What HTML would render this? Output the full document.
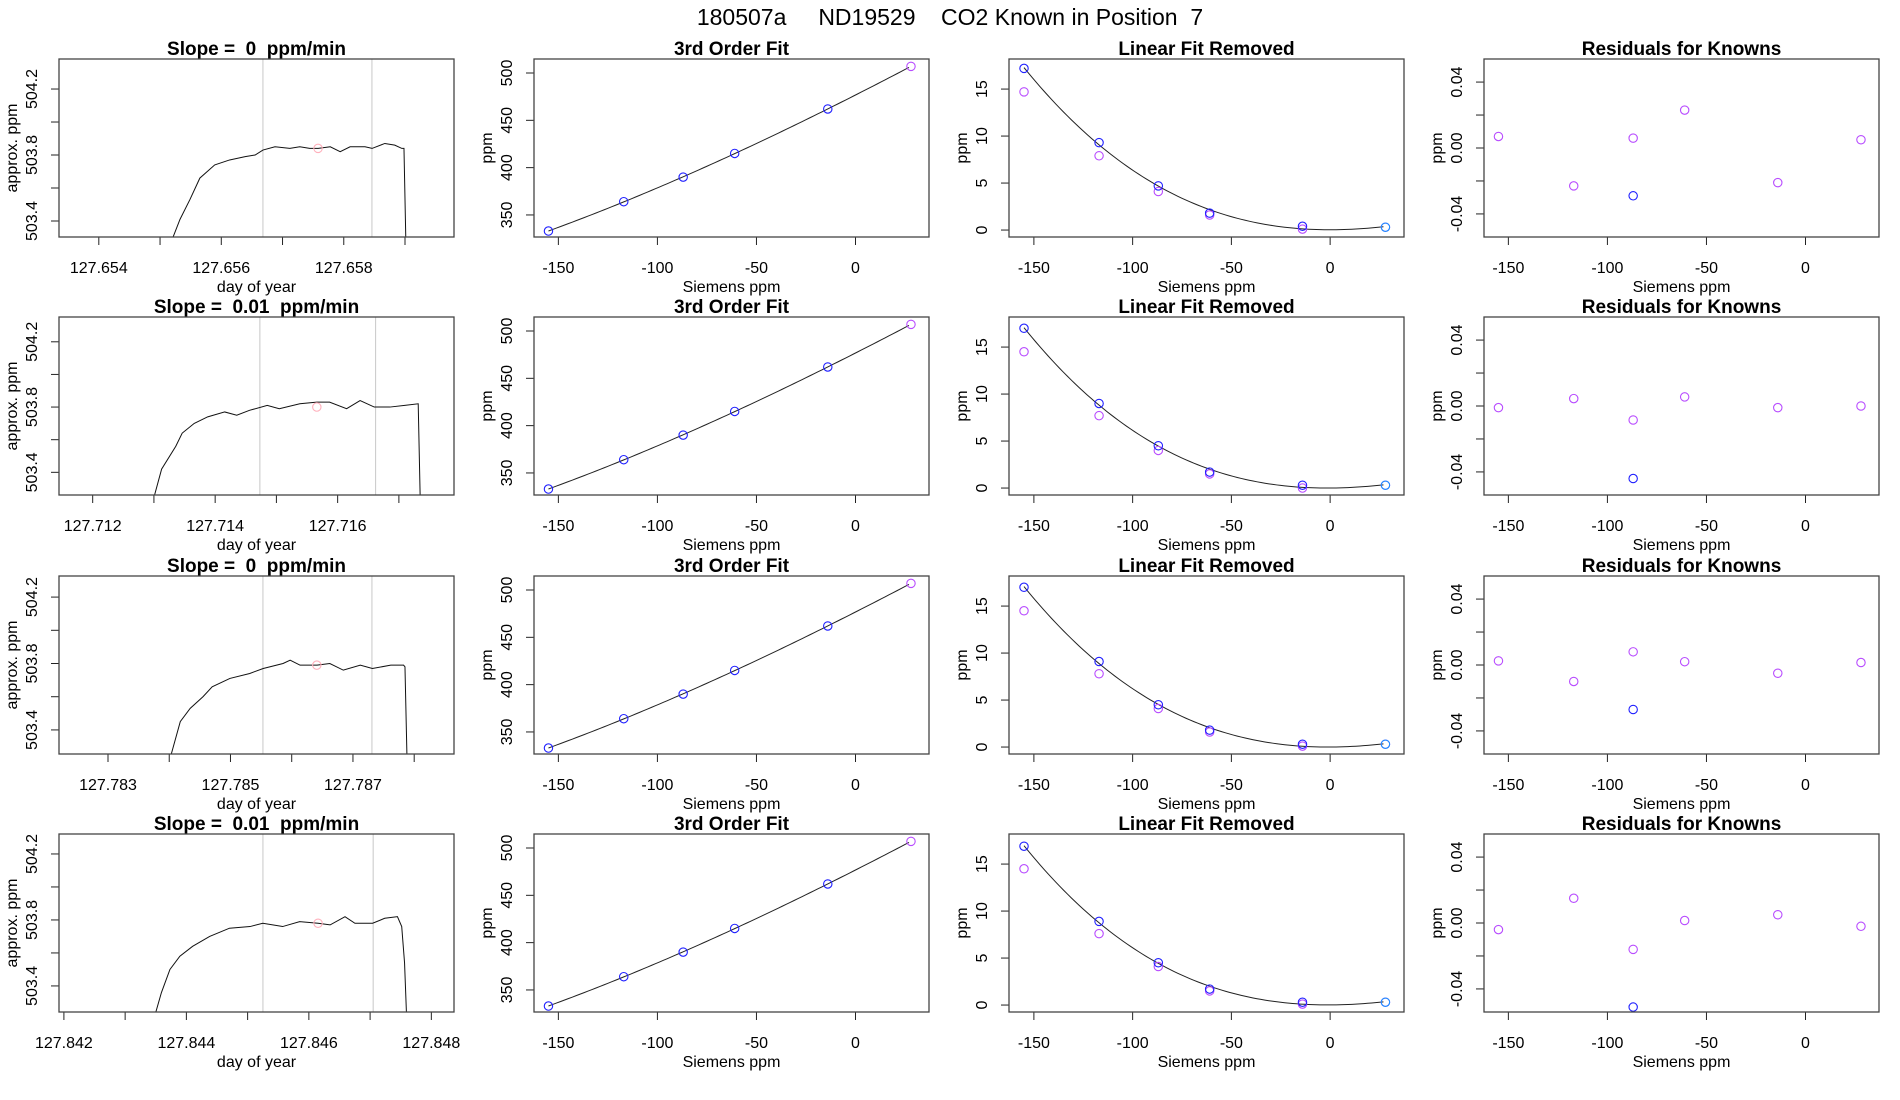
<!DOCTYPE html>
<html><head><meta charset="utf-8"><style>
html,body{margin:0;padding:0;background:#fff;}
svg{display:block;font-family:"Liberation Sans",Arial,sans-serif;}
text{white-space:pre;}
</style></head><body>
<svg id="chart" width="1900" height="1100" viewBox="0 0 1900 1100" xmlns="http://www.w3.org/2000/svg">
<text x="950" y="25" text-anchor="middle" font-size="23" xml:space="preserve">180507a     ND19529    CO2 Known in Position  7</text>
</svg>
<script>
// ---- Trace panels (column 1) ----
const slopeLabels = ["0", "0.01", "0", "0.01"];
const traceStart = [127.65521, 127.71301, 127.78403, 127.84350];
const traceSecs1 = [0,10,24,38,59,80,102,116,127,144,165,179,193,205,222,236,250,271,281,299,313,323,326,329];
const tracePpm1 = [503.30,503.41,503.53,503.66,503.74,503.77,503.79,503.80,503.83,503.85,503.84,503.85,503.84,503.84,503.85,503.82,503.85,503.85,503.84,503.87,503.86,503.84,503.84,503.20];
const traceSecs2 = [0,10,30,39,56,75,99,116,134,159,176,205,229,247,271,290,310,332,353,372,375];
const tracePpm2 = [503.26,503.42,503.56,503.64,503.70,503.74,503.77,503.75,503.78,503.81,503.79,503.82,503.83,503.83,503.79,503.84,503.80,503.80,503.81,503.82,503.20];
const traceSecs3 = [0,13,27,45,58,83,111,130,158,168,182,206,224,243,267,284,310,328,330,333];
const tracePpm3 = [503.25,503.45,503.53,503.60,503.66,503.71,503.74,503.77,503.80,503.82,503.79,503.79,503.80,503.76,503.79,503.77,503.79,503.79,503.78,503.20];
const traceSecs4 = [0,8,20,34,52,76,104,133,151,179,203,229,246,267,281,306,323,341,347,351,354];
const tracePpm4 = [503.24,503.36,503.50,503.58,503.64,503.70,503.75,503.76,503.78,503.76,503.79,503.78,503.77,503.82,503.78,503.78,503.81,503.82,503.76,503.54,503.20];
const dayMin = [127.65335, 127.71145, 127.78220, 127.84192];
const dayMax = [127.65980, 127.71790, 127.78865, 127.84837];
const ppmMin = [503.303, 503.261, 503.255, 503.242];
const ppmMax = [504.382, 504.352, 504.327, 504.321];
const dayTicks1 = [127.654,127.655,127.656,127.657,127.658,127.659];
const dayTicks2 = [127.712,127.713,127.714,127.715,127.716,127.717];
const dayTicks3 = [127.783,127.784,127.785,127.786,127.787,127.788];
const dayTicks4 = [127.842,127.843,127.844,127.845,127.846,127.847,127.848];
const ppmTicks = [503.4,503.6,503.8,504.0,504.2];
const ppmTickLabels = ["503.4","","503.8","","504.2"];
const windowStart = [127.65668, 127.71473, 127.78553, 127.84525];
const windowEnd = [127.65846, 127.71662, 127.78731, 127.84705];
const meanDay = [127.65758, 127.71566, 127.78641, 127.84615];
const meanPpm = [503.84, 503.80, 503.79, 503.78];

// ---- Known standards (columns 2-4) ----
const knownX = [-155, -117, -87, -61, -14, 28];
const fitY = [333, 364, 390, 415, 462, 507];
const linBlue1 = [17.2, 9.3, 4.7, 1.8, 0.4, 0.3];
const linBlue2 = [17.0, 9.0, 4.5, 1.7, 0.3, 0.3];
const linBlue3 = [17.0, 9.1, 4.5, 1.8, 0.3, 0.3];
const linBlue4 = [16.9, 8.9, 4.5, 1.7, 0.3, 0.3];
const linPurple1 = [14.7, 7.9, 4.1, 1.6, 0.1, 0.3];
const linPurple2 = [14.5, 7.7, 4.0, 1.5, 0.0, 0.3];
const linPurple3 = [14.5, 7.8, 4.1, 1.6, 0.1, 0.3];
const linPurple4 = [14.5, 7.6, 4.1, 1.5, 0.1, 0.3];
const resPurple1 = [0.007, -0.023, 0.006, 0.023, -0.021, 0.005];
const resPurple2 = [-0.001, 0.0045, -0.0085, 0.0055, -0.001, 0.000];
const resPurple3 = [0.0025, -0.010, 0.008, 0.002, -0.005, 0.0015];
const resPurple4 = [-0.004, 0.015, -0.016, 0.0015, 0.005, -0.002];
const resBlueX = [-87];
const resBlue = [-0.029, -0.044, -0.027, -0.051];
const siemensTicks = [-150, -100, -50, 0];
const fitTicks = [350, 400, 450, 500];
const linTicks = [0, 5, 10, 15];
const resTicks = [-0.04, -0.02, 0, 0.02, 0.04];
const resTickLabels = ["-0.04", "", "0.00", "", "0.04"];

const traceSecs = [traceSecs1, traceSecs2, traceSecs3, traceSecs4];
const tracePpm = [tracePpm1, tracePpm2, tracePpm3, tracePpm4];
const dayTicks = [dayTicks1, dayTicks2, dayTicks3, dayTicks4];
const linBlue = [linBlue1, linBlue2, linBlue3, linBlue4];
const linPurple = [linPurple1, linPurple2, linPurple3, linPurple4];
const resPurple = [resPurple1, resPurple2, resPurple3, resPurple4];

const NS = "http://www.w3.org/2000/svg";
const svg = document.getElementById("chart");
const ROW_TOP = [59, 317, 576, 834];
const COL_LEFT = [59, 534, 1009, 1484];
const PW = 395, PH = 178;
const BLUE = "#2020ff", PURPLE = "#b84cff", SKY = "#1e90ff";

function mk(tag, attrs, parent, name, inter) {
  const el = document.createElementNS(NS, tag);
  for (const k in attrs) el.setAttribute(k, attrs[k]);
  
  
  parent.appendChild(el);
  return el;
}
function txt(s, attrs, parent, name) {
  const t = mk("text", attrs, parent, name, false);
  t.textContent = s;
  return t;
}
function scale(d0, d1, r0, r1) { return v => r0 + (v - d0) / (d1 - d0) * (r1 - r0); }

function cubicFit(xs, ys) {
  const n = 4, A = [], b = [];
  for (let i = 0; i < n; i++) { A.push([0,0,0,0]); b.push(0); }
  xs.forEach((x, k) => {
    for (let i = 0; i < n; i++) {
      b[i] += ys[k] * Math.pow(x, i);
      for (let j = 0; j < n; j++) A[i][j] += Math.pow(x, i + j);
    }
  });
  for (let i = 0; i < n; i++) {
    let p = i;
    for (let r = i + 1; r < n; r++) if (Math.abs(A[r][i]) > Math.abs(A[p][i])) p = r;
    [A[i], A[p]] = [A[p], A[i]]; [b[i], b[p]] = [b[p], b[i]];
    for (let r = i + 1; r < n; r++) {
      const f = A[r][i] / A[i][i];
      for (let c = i; c < n; c++) A[r][c] -= f * A[i][c];
      b[r] -= f * b[i];
    }
  }
  const c = [0,0,0,0];
  for (let i = n - 1; i >= 0; i--) {
    let s = b[i];
    for (let j = i + 1; j < n; j++) s -= A[i][j] * c[j];
    c[i] = s / A[i][i];
  }
  return x => c[0] + c[1]*x + c[2]*x*x + c[3]*x*x*x;
}

function panel(row, col, title, xd, yd, xticks, xlabels, yticks, ylabels, xlab, ylab, key) {
  const L = COL_LEFT[col], T = ROW_TOP[row], B = T + PH, R = L + PW;
  const g = mk("g", {}, svg, key + "-panel-" + (row + 1), false);
  const sx = scale(xd[0], xd[1], L, R), sy = scale(yd[0], yd[1], B, T);
  txt(title, {x: L + PW/2, y: T - 4, "text-anchor": "middle", "font-size": 19, "font-weight": "bold"}, g, "panel-title");
  const ax = mk("g", {stroke: "#222", "stroke-width": 1}, g, "x-axis", false);
  mk("line", {x1: sx(xticks[0]), x2: sx(xticks[xticks.length-1]), y1: B, y2: B}, ax, "x-axis-line", false);
  xticks.forEach((v, i) => {
    mk("line", {x1: sx(v), x2: sx(v), y1: B, y2: B + 8}, ax, "x-tick", false);
    if (xlabels[i]) txt(xlabels[i], {x: sx(v), y: B + 36, "text-anchor": "middle", "font-size": 16, stroke: "none", fill: "#000"}, g, "x-tick-label");
  });
  txt(xlab, {x: L + PW/2, y: B + 55, "text-anchor": "middle", "font-size": 16}, g, "x-axis-title");
  const ay = mk("g", {stroke: "#222", "stroke-width": 1}, g, "y-axis", false);
  mk("line", {x1: L, x2: L, y1: sy(yticks[0]), y2: sy(yticks[yticks.length-1])}, ay, "y-axis-line", false);
  yticks.forEach((v, i) => {
    mk("line", {x1: L, x2: L - 8, y1: sy(v), y2: sy(v)}, ay, "y-tick", false);
    if (ylabels[i]) txt(ylabels[i], {x: 0, y: 0, transform: `translate(${L - 22},${sy(v)}) rotate(-90)`, "text-anchor": "middle", "font-size": 16}, g, "y-tick-label");
  });
  txt(ylab, {x: 0, y: 0, transform: `translate(${L - 42},${T + PH/2}) rotate(-90)`, "text-anchor": "middle", "font-size": 16}, g, "y-axis-title");
  const cid = "clip-" + key + row;
  const cp = mk("clipPath", {id: cid}, g, "plot-clip", false);
  mk("rect", {x: L, y: T, width: PW, height: PH}, cp, "plot-clip-rect", false);
  const plot = mk("g", {"clip-path": `url(#${cid})`}, g, "plot-area", false);
  mk("rect", {x: L, y: T, width: PW, height: PH, fill: "none", stroke: "#444", "stroke-width": 1.3}, g, "plot-box", false);
  return {plot, sx, sy};
}
function circle(parent, cx, cy, color, name) {
  mk("circle", {cx, cy, r: 4.2, fill: "none", stroke: color, "stroke-width": 1.1}, parent, name, false);
}

for (let r = 0; r < 4; r++) {
  const dl = dayTicks[r].map((v, i) => (i % 2 === 0 ? v.toFixed(3) : ""));
  const p1 = panel(r, 0, "Slope =  " + slopeLabels[r] + "  ppm/min", [dayMin[r], dayMax[r]], [ppmMin[r], ppmMax[r]],
    dayTicks[r], dl, ppmTicks, ppmTickLabels, "day of year", "approx. ppm", "trace");
  [windowStart[r], windowEnd[r]].forEach(d => {
    mk("line", {x1: p1.sx(d), x2: p1.sx(d), y1: ROW_TOP[r], y2: ROW_TOP[r] + PH, stroke: "#c8c8c8", "stroke-width": 1}, p1.plot, "averaging-window-line", false);
  });
  const pts = traceSecs[r].map((s, i) => p1.sx(traceStart[r] + s / 86400) + "," + p1.sy(tracePpm[r][i])).join(" ");
  mk("polyline", {points: pts, fill: "none", stroke: "#111", "stroke-width": 1}, p1.plot, "ppm-trace-line", false);
  circle(p1.plot, p1.sx(meanDay[r]), p1.sy(meanPpm[r]), "#ffb0bc", "mean-ppm-marker");

  const sl = siemensTicks.map(String);
  const p2 = panel(r, 1, "3rd Order Fit", [-162.3, 37.1], [326.7, 514.8], siemensTicks, sl, fitTicks, fitTicks.map(String), "Siemens ppm", "ppm", "cubic-fit");
  const f2 = cubicFit(knownX, fitY);
  let d2 = [];
  for (let x = knownX[0]; x <= knownX[knownX.length-1]; x += 2) d2.push(p2.sx(x) + "," + p2.sy(f2(x)));
  mk("polyline", {points: d2.join(" "), fill: "none", stroke: "#222", "stroke-width": 1}, p2.plot, "cubic-fit-curve", false);
  knownX.forEach((x, i) => circle(p2.plot, p2.sx(x), p2.sy(fitY[i]), i === knownX.length - 1 ? PURPLE : BLUE, "known-point"));

  const p3 = panel(r, 2, "Linear Fit Removed", [-162.6, 37.4], [-0.74, 18.2], siemensTicks, sl, linTicks, linTicks.map(String), "Siemens ppm", "ppm", "linear-removed");
  const f3 = cubicFit(knownX, linBlue[r]);
  let d3 = [];
  for (let x = knownX[0]; x <= knownX[knownX.length-1]; x += 2) d3.push(p3.sx(x) + "," + p3.sy(f3(x)));
  mk("polyline", {points: d3.join(" "), fill: "none", stroke: "#222", "stroke-width": 1}, p3.plot, "nonlinear-fit-curve", false);
  knownX.forEach((x, i) => circle(p3.plot, p3.sx(x), p3.sy(linPurple[r][i]), PURPLE, "measured-point"));
  knownX.forEach((x, i) => circle(p3.plot, p3.sx(x), p3.sy(linBlue[r][i]), i === knownX.length - 1 ? SKY : BLUE, "assigned-point"));

  const p4 = panel(r, 3, "Residuals for Knowns", [-162.3, 37.1], [-0.054, 0.054], siemensTicks, sl, resTicks, resTickLabels, "Siemens ppm", "ppm", "residuals");
  knownX.forEach((x, i) => circle(p4.plot, p4.sx(x), p4.sy(resPurple[r][i]), PURPLE, "residual-point"));
  resBlueX.forEach(x => circle(p4.plot, p4.sx(x), p4.sy(resBlue[r]), BLUE, "excluded-residual-point"));
}
</script>
</body></html>
